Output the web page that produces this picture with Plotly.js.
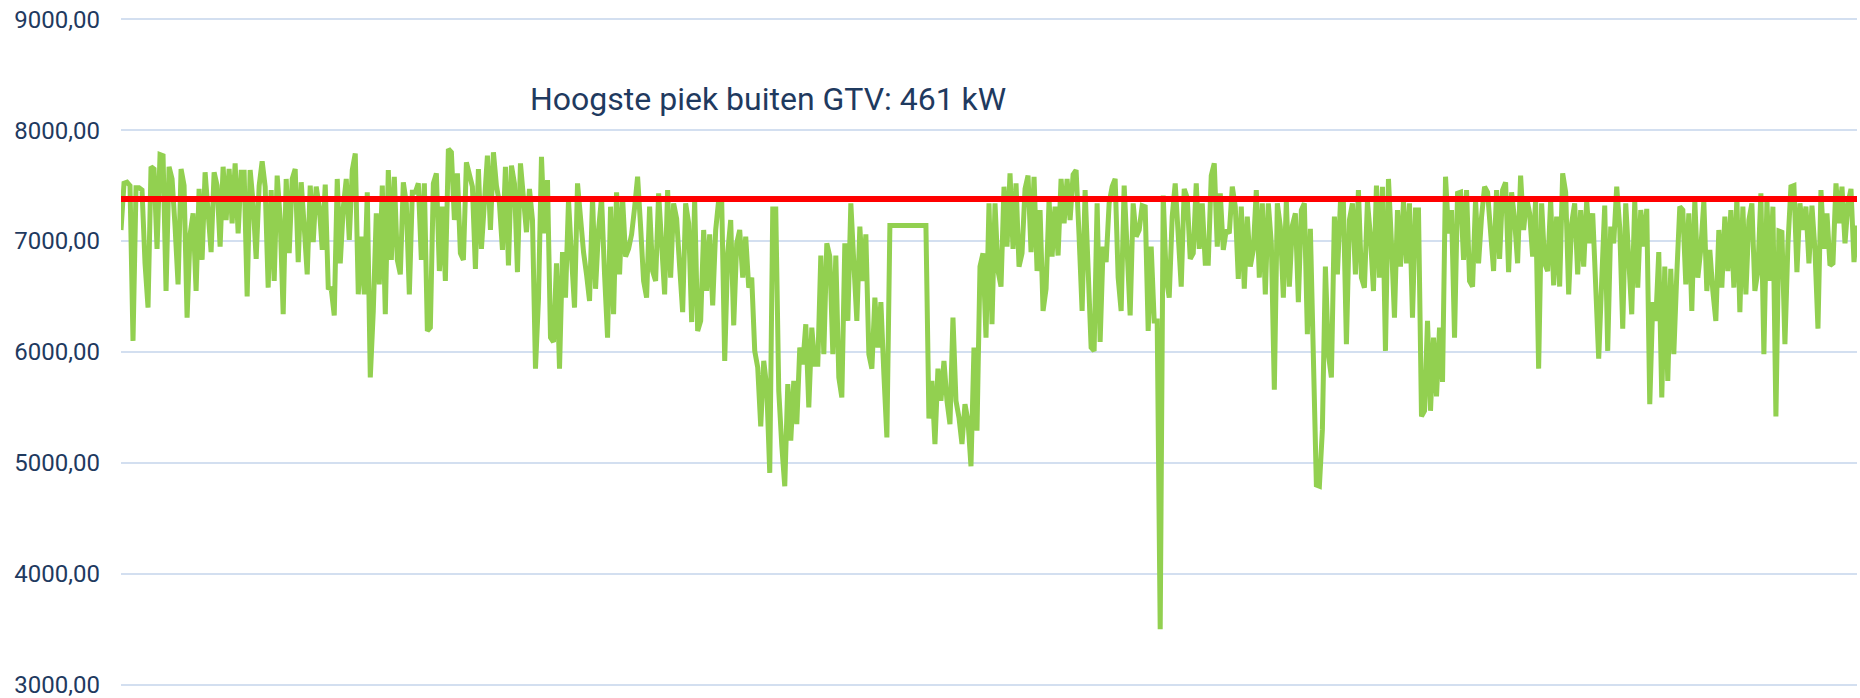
<!DOCTYPE html>
<html>
<head>
<meta charset="utf-8">
<script src="https://cdn.plot.ly/plotly-3.0.1.min.js"></script>
<style>
  html, body { margin: 0; padding: 0; background: #ffffff; }
  #chart { width: 1860px; height: 698px; }
</style>
</head>
<body>
<div id="chart"></div>
<script>
// Load profile (kW), in time order (part 1 .. part 4)
const loadPart1 = [7100,7520,7530,7500,6100,7480,7480,7460,6800,6400,7670,7650,6930,7780,7770,6550,7670,7560,7130,6610,
  7650,7500,6310,7060,7250,6550,7470,6830,7620,7300,6900,7620,7500,6950,7670,7190,7650,7160,7700,7070,
  7620,7620,6500,7640,7340,6840,7500,7720,7490,6580,7460,6640,7590,7200,6340,7560,6890,7560,7650,6810,
  7530,7130,6700,7500,6990,7490,7310,6920,7510,6580,6570,6330,7560,6800,7300,7560,7010,7640,7790,6520,
  7040,6520,7440,5770,6370,7250,6610,7500,6340,7640,6830,7580,6830,6700,7530,7340,6520,7440,7440,7520,
  6830,7520,6190,6220,7520,7610,6730,7310,6640,7830,7800,7190,7610,6890,6830,7710,7610,7490,6750,7650,
  6930,7400,7770,7100,7800,7500,7340,6920,7670,6780,7680,7520,6720,7700,7310,7080,7470,7190,5850,6480,
  7760,7070,7550,6130,6090];

const loadPart2 = [6800,5850,6900,6490,7370,6860,6400,7520,7160,6900,6700,6460,7390,6570,7100,7390,6700,6130,7310,6340,
  7440,6700,7390,6860,6930,7060,7300,7580,7130,6640,6490,7310,6730,6640,7430,6980,6520,7460,6670,7340,
  7200,6770,6360,7340,7160,6270,7370,6190,6280,7100,6550,7060,6420,7100,7370,7370,5920,6890,7190,6240,
  6980,7100,6670,7040,6580,6670,6010,5860,5330,5920,5680,4910,7290,7290,5650,5160,4790,5710,5200,5740,
  5350,6040,5890,6250,5500,6220,5890,5890,6870,5980,6980,6860,5980,6870,5770,5590,6980,6280,7340,6800,
  6280,7130,6640,7060,5980,5850,6490,6040,6450,5800,5230,7140,7140,7140,7140,7140,7140,7140,7140,7140,
  7140,7140,7140,7140,5400,5740,5170,5850,5560,5920,5560,5350,6310,5560,5410,5170,5530,5380,4970,6040,
  5290,6770,6890,6130,7340];

const loadPart3 = [6250,7340,6730,6590,7490,6950,7610,6930,7520,6770,6890,7470,7590,6900,7580,6730,7280,6370,6570,7370,
  6860,7310,6870,7560,7160,7560,7190,7600,7640,7040,6370,7460,6770,6040,6010,7340,6090,6950,6810,7340,
  7490,7560,6670,6370,7500,6890,6330,7340,7040,7100,7320,7310,6190,6950,6280,6280,3500,7410,6670,6490,
  7220,7520,7040,6590,7470,7390,6840,6890,7520,6930,7340,6800,6800,7590,7700,6950,7430,6920,7100,7070,
  7490,7310,6660,7310,6570,7220,6770,6920,7460,6670,7340,6520,7340,6980,5660,7340,7130,6490,7360,6590,
  7140,7250,6450,7280,7340,6160,7110,5980,4800,4790,5300,6770,5980,5770,7220,6700,7340,7340,6070,7190,
  7340,6700,7460,6670,6580,7360,7040,6550,7500,6670,7490,6010,7560,6980,6310,7280,6770,7360,6800,7340,
  6310,7280,7280,5420];

const loadPart4 = [5470,6280,5470,6130,5600,6220,5730,7580,7070,7280,6130,7430,7440,6830,7460,6640,6590,7370,6800,7220,
  7490,7440,7070,6730,7460,6840,7460,7530,6720,7440,7190,6800,7590,7100,7390,7250,6860,7370,5850,7340,
  6800,6730,7370,6600,7220,6590,7610,7440,6520,7160,7340,6700,7280,6770,7360,6980,7250,6520,5940,6640,
  7320,6010,7130,6980,7490,7120,6210,7340,6890,6340,7360,6580,7280,6950,7290,5530,6450,6280,6900,5590,
  6770,5740,6750,5980,6700,7310,7280,6610,7250,6370,7370,6670,6930,7360,6550,6920,6550,6280,7100,6580,
  7220,6730,7280,6580,7390,6360,7310,6520,7190,7340,6550,6730,7430,5980,7370,6640,7310,5420,7090,7080,
  6070,6970,7490,7500,6720,7340,7100,7310,6800,7320,6920,6210,7460,6930,7250,6780,6800,7520,7160,7490,
  6980,7340,7470,6810,7140];

// Contract limit (GTV) shown as the red horizontal line
const gtvLimit = 7380;

// Y axis ticks
const yTickValues = [3000, 4000, 5000, 6000, 7000, 8000, 9000];
const yTickLabels = ["3000,00", "4000,00", "5000,00", "6000,00", "7000,00", "8000,00", "9000,00"];

const chartTitle = "Hoogste piek buiten GTV: 461 kW";

const load = [].concat(loadPart1, loadPart2, loadPart3, loadPart4);
const idx = load.map((_, i) => i);
const lastIdx = load.length - 1;

const navy = "#1f3a5f";

const traces = [
  {
    x: idx, y: load, type: "scatter", mode: "lines",
    line: { color: "#92d050", width: 5 },
    hoverinfo: "skip", showlegend: false
  },
  {
    x: [0, lastIdx], y: [gtvLimit, gtvLimit], type: "scatter", mode: "lines",
    line: { color: "#ff0000", width: 6 },
    hoverinfo: "skip", showlegend: false
  }
];

const layout = {
  width: 1860, height: 698,
  margin: { l: 121, r: 3, t: 17, b: 11, pad: 0 },
  paper_bgcolor: "#ffffff", plot_bgcolor: "#ffffff",
  font: { family: "Roboto, 'Open Sans', sans-serif", color: navy },
  title: {
    text: chartTitle,
    font: { family: "Roboto, sans-serif", size: 32, color: navy },
    xref: "container", yref: "container",
    x: 530 / 1860, xanchor: "left",
    y: 1 - 99 / 698, yanchor: "middle"
  },
  xaxis: {
    range: [0, lastIdx], visible: false, showgrid: false, zeroline: false, fixedrange: true
  },
  yaxis: {
    range: [2980, 9020],
    tickmode: "array", tickvals: yTickValues, ticktext: yTickLabels,
    showgrid: true, gridcolor: "#d3dff0", gridwidth: 2,
    zeroline: false, showline: false, ticks: "",
    ticklabelstandoff: 20,
    ticklabeloverflow: "allow",
    tickfont: { family: "Roboto, sans-serif", size: 24, color: navy },
    fixedrange: true
  },
  showlegend: false
};

Plotly.newPlot("chart", traces, layout, { staticPlot: true, displayModeBar: false });
</script>
</body>
</html>
